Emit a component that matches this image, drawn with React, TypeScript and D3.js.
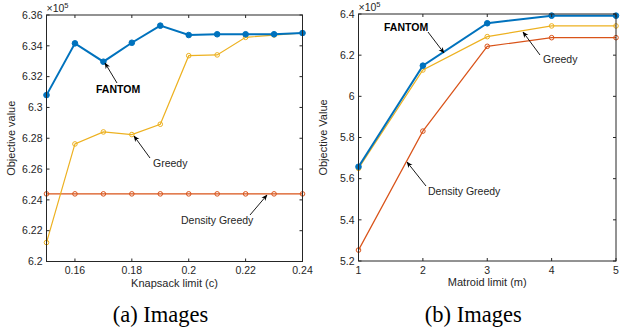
import React from "react";
import * as d3 from "d3";

const knapX = [0.15, 0.16, 0.17, 0.18, 0.19, 0.2, 0.21, 0.22, 0.23, 0.24];
const knapFantom = [6.308, 6.3416, 6.3297, 6.342, 6.3531, 6.347, 6.3475, 6.3475, 6.3475, 6.3483];
const knapGreedy = [6.2123, 6.2763, 6.2841, 6.2824, 6.2891, 6.3336, 6.3341, 6.3455, 6.347, 6.3483];
const knapDensity = [6.2439, 6.2439, 6.2439, 6.2439, 6.2439, 6.2439, 6.2439, 6.2439, 6.2439, 6.2439];
const knapXTicks = [0.16, 0.18, 0.2, 0.22, 0.24];
const knapYTicks = [6.2, 6.22, 6.24, 6.26, 6.28, 6.3, 6.32, 6.34, 6.36];

const matX = [1, 2, 3, 4, 5];
const matFantom = [5.658, 6.149, 6.355, 6.392, 6.392];
const matGreedy = [5.65, 6.128, 6.29, 6.342, 6.342];
const matDensity = [5.253, 5.831, 6.243, 6.285, 6.285];
const matXTicks = [1, 2, 3, 4, 5];
const matYTicks = [5.2, 5.4, 5.6, 5.8, 6, 6.2, 6.4];

const BLUE = "#0072BD";
const YELLOW = "#EDB120";
const RED = "#D95319";
const AX = "#262626";
const FONT = "'Liberation Sans', Arial, Helvetica, sans-serif";

type Series = { vals: number[]; color: string; width: number; r: number; filled: boolean };
type Ann = { text: string; bold?: boolean; tx: number; ty: number; x1: number; y1: number; x2: number; y2: number };

function Panel(props: {
  left: number; right: number; top: number; bottom: number;
  xDomain: [number, number]; yDomain: [number, number];
  xs: number[]; series: Series[]; xTicks: number[]; yTicks: number[];
  xFmt: (v: number) => string; yFmt: (v: number) => string;
  xLabel: string; yLabel: string; yLabelX: number; caption: string; annotations: Ann[]; id: string;
}) {
  const p = props;
  const x = d3.scaleLinear().domain(p.xDomain).range([p.left, p.right]);
  const y = d3.scaleLinear().domain(p.yDomain).range([p.bottom, p.top]);
  const line = d3.line<number>().x((_, i) => x(p.xs[i])).y((v) => y(v));
  const tl = 3;
  const cx = (p.left + p.right) / 2;
  return (
    <g>
      <defs>
        <marker id={"ah" + p.id} viewBox="0 0 10 10" refX="9" refY="5" markerWidth="7" markerHeight="7" orient="auto-start-reverse">
          <path d="M0,1 L10,5 L0,9 L3,5 z" fill="#000" />
        </marker>
      </defs>
      <rect x={p.left} y={p.top} width={p.right - p.left} height={p.bottom - p.top} fill="#fff" />
      {p.series.map((s, si) => (
        <g key={si}>
          <path d={line(s.vals) || ""} fill="none" stroke={s.color} strokeWidth={s.width} />
          {s.vals.map((v, i) => (
            <circle key={i} cx={x(p.xs[i])} cy={y(v)} r={s.r} fill={s.filled ? s.color : "none"} stroke={s.color} strokeWidth={1} />
          ))}
        </g>
      ))}
      <rect x={p.left} y={p.top} width={p.right - p.left} height={p.bottom - p.top} fill="none" stroke={AX} strokeWidth={1} />
      {p.xTicks.map((t) => (
        <g key={"xt" + t}>
          <line x1={x(t)} x2={x(t)} y1={p.bottom} y2={p.bottom - tl} stroke={AX} />
          <line x1={x(t)} x2={x(t)} y1={p.top} y2={p.top + tl} stroke={AX} />
          <text x={x(t)} y={p.bottom + 12.5} textAnchor="middle" fontSize={10.5} fill={AX} fontFamily={FONT}>{p.xFmt(t)}</text>
        </g>
      ))}
      {p.yTicks.map((t) => (
        <g key={"yt" + t}>
          <line x1={p.left} x2={p.left + tl} y1={y(t)} y2={y(t)} stroke={AX} />
          <line x1={p.right} x2={p.right - tl} y1={y(t)} y2={y(t)} stroke={AX} />
          <text x={p.left - 4} y={y(t) + 3.8} textAnchor="end" fontSize={10.5} fill={AX} fontFamily={FONT}>{p.yFmt(t)}</text>
        </g>
      ))}
      <text x={p.left} y={p.top - 3} fontSize={10.5} fill={AX} fontFamily={FONT}>
        ×10<tspan dy={-4} fontSize={7.5}>5</tspan>
      </text>
      <text x={cx} y={p.bottom + 25} textAnchor="middle" fontSize={11} fill={AX} fontFamily={FONT}>{p.xLabel}</text>
      <text transform={`translate(${p.yLabelX},${(p.top + p.bottom) / 2}) rotate(-90)`} textAnchor="middle" fontSize={11} fill={AX} fontFamily={FONT}>{p.yLabel}</text>
      {p.annotations.map((a, i) => (
        <g key={"a" + i}>
          <line x1={a.x1} y1={a.y1} x2={a.x2} y2={a.y2} stroke="#000" strokeWidth={0.9} markerEnd={`url(#ah${p.id})`} />
          <text x={a.tx} y={a.ty} fontSize={10.5} fontWeight={a.bold ? "bold" : "normal"} fill={a.bold ? "#000" : AX} fontFamily={FONT}>{a.text}</text>
        </g>
      ))}
      <text x={cx - 14} y={322} textAnchor="middle" fontSize={22.5} fill="#000" fontFamily="'Liberation Serif', 'Times New Roman', serif">{p.caption}</text>
    </g>
  );
}

export default function App() {
  const fmt2 = (v: number) => String(+v.toFixed(2));
  const fmt1 = (v: number) => String(+v.toFixed(1));
  return (
    <svg width={627} height={333} style={{ position: "absolute", left: 0, top: 0, background: "#fff" }}>
      <rect width={627} height={333} fill="#fff" />
      <Panel
        id="a"
        left={46.5} right={302.5} top={15} bottom={261.5}
        xDomain={[0.15, 0.24]} yDomain={[6.2, 6.36]}
        xs={knapX}
        series={[
          { vals: knapDensity, color: RED, width: 1.2, r: 2.3, filled: false },
          { vals: knapGreedy, color: YELLOW, width: 1.2, r: 2.3, filled: false },
          { vals: knapFantom, color: BLUE, width: 2, r: 2.8, filled: true },
        ]}
        xTicks={knapXTicks} yTicks={knapYTicks}
        xFmt={fmt2} yFmt={fmt2}
        xLabel="Knapsack limit (c)" yLabel="Objective value" yLabelX={15}
        caption="(a) Images"
        annotations={[
          { text: "FANTOM", bold: true, tx: 96, ty: 93, x1: 117, y1: 83, x2: 105, y2: 63 },
          { text: "Greedy", tx: 153, ty: 167, x1: 150, y1: 158, x2: 134, y2: 136 },
          { text: "Density Greedy", tx: 181, ty: 224, x1: 250, y1: 215, x2: 267, y2: 195 },
        ]}
      />
      <Panel
        id="b"
        left={358.5} right={616} top={14} bottom={261}
        xDomain={[1, 5]} yDomain={[5.2, 6.4]}
        xs={matX}
        series={[
          { vals: matDensity, color: RED, width: 1.2, r: 2.3, filled: false },
          { vals: matGreedy, color: YELLOW, width: 1.2, r: 2.3, filled: false },
          { vals: matFantom, color: BLUE, width: 2, r: 2.8, filled: true },
        ]}
        xTicks={matXTicks} yTicks={matYTicks}
        xFmt={(v) => String(v)} yFmt={fmt1}
        xLabel="Matroid limit (m)" yLabel="Objective Value" yLabelX={327}
        caption="(b) Images"
        annotations={[
          { text: "FANTOM", bold: true, tx: 384, ty: 31, x1: 428, y1: 32, x2: 444, y2: 53 },
          { text: "Greedy", tx: 543, ty: 63, x1: 540, y1: 55, x2: 523, y2: 32 },
          { text: "Density Greedy", tx: 428, ty: 195, x1: 426, y1: 186, x2: 407, y2: 162 },
        ]}
      />
    </svg>
  );
}
